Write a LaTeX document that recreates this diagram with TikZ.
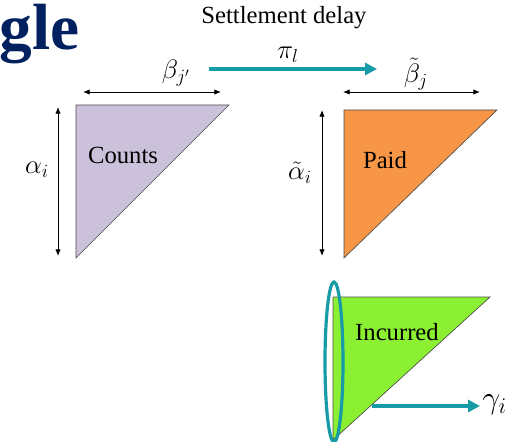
\RequirePackage{fix-cm}
\documentclass[tikz,border=0pt]{standalone}
\usepackage{amsmath}
\usepackage{fontspec}
\setmainfont{Liberation Serif}
\usetikzlibrary{arrows.meta}
\definecolor{navytitle}{RGB}{0,32,96}
\definecolor{tealline}{RGB}{23,155,166}
\definecolor{countsfill}{RGB}{204,193,218}
\definecolor{paidfill}{RGB}{247,150,70}
\definecolor{incfill}{RGB}{140,240,50}

\begin{document}
\begin{tikzpicture}[x=0.75pt, y=-0.75pt,
	dim/.style={{Latex[length=5pt,width=4pt]}-{Latex[length=5pt,width=4pt]}, line width=0.6pt},
	flow/.style={tealline, line width=2.6pt, -{Triangle[length=9pt,width=9pt]}},
	tri/.style={draw=gray!60!black, line width=0.5pt},
	lbl/.style={font=\fontsize{18.5}{22}\selectfont, inner sep=0pt},
	sym/.style={font=\fontsize{20}{24}\selectfont, inner sep=0pt}]

	\useasboundingbox (0,0) rectangle (525,442);

	% title and delay
	\node[anchor=base east, inner sep=0pt, text=navytitle, font=\fontsize{49}{56}\selectfont\bfseries] (title) at (80,50) {gle};
	\node[lbl] (delay) at (284,18) {Settlement delay};
	\node[sym] (pil) at (288,55) {$\pi_l$};

	% triangles
	\draw[tri, fill=countsfill] (76,105) -- (229,105) -- (76,258) -- cycle;
	\draw[tri, fill=paidfill] (344,110) -- (497,110) -- (344,258) -- cycle;
	\draw[tri, fill=incfill] (333,297) -- (490,297) -- (333,440) -- cycle;
	\node[lbl] (counts) at (123,155) {Counts};
	\node[lbl] (paid) at (385,160) {Paid};
	\node[lbl] (incurred) at (397,332) {Incurred};

	% labels
	\node[sym] (betaj) at (176,73) {$\beta_{j'}$};
	\node[sym] (alphai) at (37,170) {$\alpha_i$};
	\node[sym] (betat) at (416,74) {$\tilde{\beta}_j$};
	\node[sym] (alphat) at (300,173) {$\tilde{\alpha}_i$};
	\node[sym, anchor=west, font=\fontsize{24}{28}\selectfont] (gammai) at (482,405) {$\gamma_i$};

	% ends
	\coordinate (c1) at (83,92);
	\coordinate (c2) at (221,92);
	\coordinate (c3) at (58,107);
	\coordinate (c4) at (58,256);
	\coordinate (p1) at (343,92);
	\coordinate (p2) at (480,92);
	\coordinate (p3) at (322,110);
	\coordinate (p4) at (322,256);
	\coordinate (d1) at (209,69);
	\coordinate (d2) at (377,69);
	\coordinate (g1) at (372,406);
	\coordinate (g2) at (480,406);

	% arrows
	\draw[dim] (c1) -- (c2);
	\draw[dim] (c3) -- (c4);
	\draw[dim] (p1) -- (p2);
	\draw[dim] (p3) -- (p4);
	\draw[flow] (d1) -- (d2);
	\draw[flow] (g1) -- (g2);
	\draw[tealline, line width=2.4pt] (334,362) ellipse [x radius=6.75pt, y radius=60pt];
\end{tikzpicture}
\end{document}
